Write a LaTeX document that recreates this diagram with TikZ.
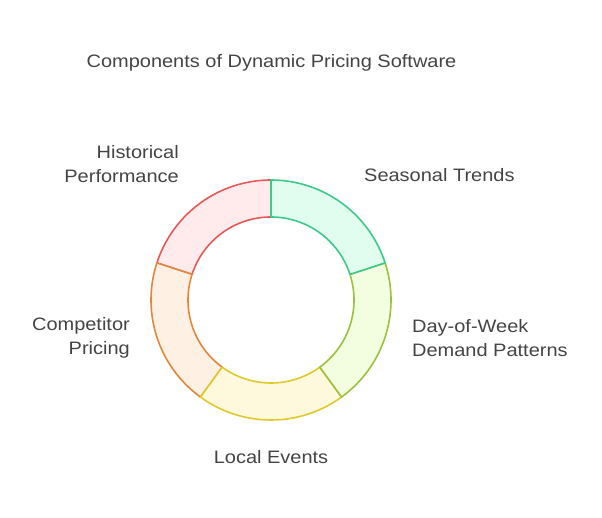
\documentclass[tikz,border=0pt]{standalone}
\usepackage{fontspec}
\setmainfont{Liberation Sans}[FakeStretch=1.11]
\usetikzlibrary{calc}
\definecolor{txt}{HTML}{444444}
\definecolor{gS}{HTML}{3DC98A}\definecolor{gF}{HTML}{E0FDF0}
\definecolor{lS}{HTML}{9BC23C}\definecolor{lF}{HTML}{F3FDE0}
\definecolor{yS}{HTML}{E0C92A}\definecolor{yF}{HTML}{FEF9DC}
\definecolor{oS}{HTML}{E4873A}\definecolor{oF}{HTML}{FFF0E4}
\definecolor{rS}{HTML}{E85858}\definecolor{rF}{HTML}{FFEBEB}
\tikzset{
  lbl/.style={font=\fontsize{18}{24}\selectfont, text=txt, inner sep=0pt},
  seg/.style={line width=1.6pt, line join=round},
}
\newcommand{\ringseg}[4]{%
  \draw[seg, draw=#3, fill=#4] ($(c)+(#1:120)$) arc[start angle=#1, end angle=#2, radius=120]
    -- ($(c)+(#2:83)$) arc[start angle=#2, end angle=#1, radius=83] -- cycle;}
\begin{document}
\begin{tikzpicture}[x=1pt,y=1pt]
\useasboundingbox (0,0) rectangle (602,518);
\coordinate (c) at (271,218);
\ringseg{90}{162}{rS}{rF}
\ringseg{162}{234}{oS}{oF}
\ringseg{234}{306}{yS}{yF}
\ringseg{306}{378}{lS}{lF}
\ringseg{18}{90}{gS}{gF}
\node[lbl, anchor=base] (title) at (271.5,450) {Components of Dynamic Pricing Software};
\node[lbl, anchor=east, align=right] (hist) at (179,354) {Historical\\Performance};
\node[lbl, anchor=base west] (seas) at (364,336) {Seasonal Trends};
\node[lbl, anchor=west, align=left] (dow) at (412,180) {Day-of-Week\\Demand Patterns};
\node[lbl, anchor=east, align=right] (comp) at (130,180) {Competitor\\Pricing};
\node[lbl, anchor=base] (local) at (271,54) {Local Events};
\end{tikzpicture}
\end{document}
